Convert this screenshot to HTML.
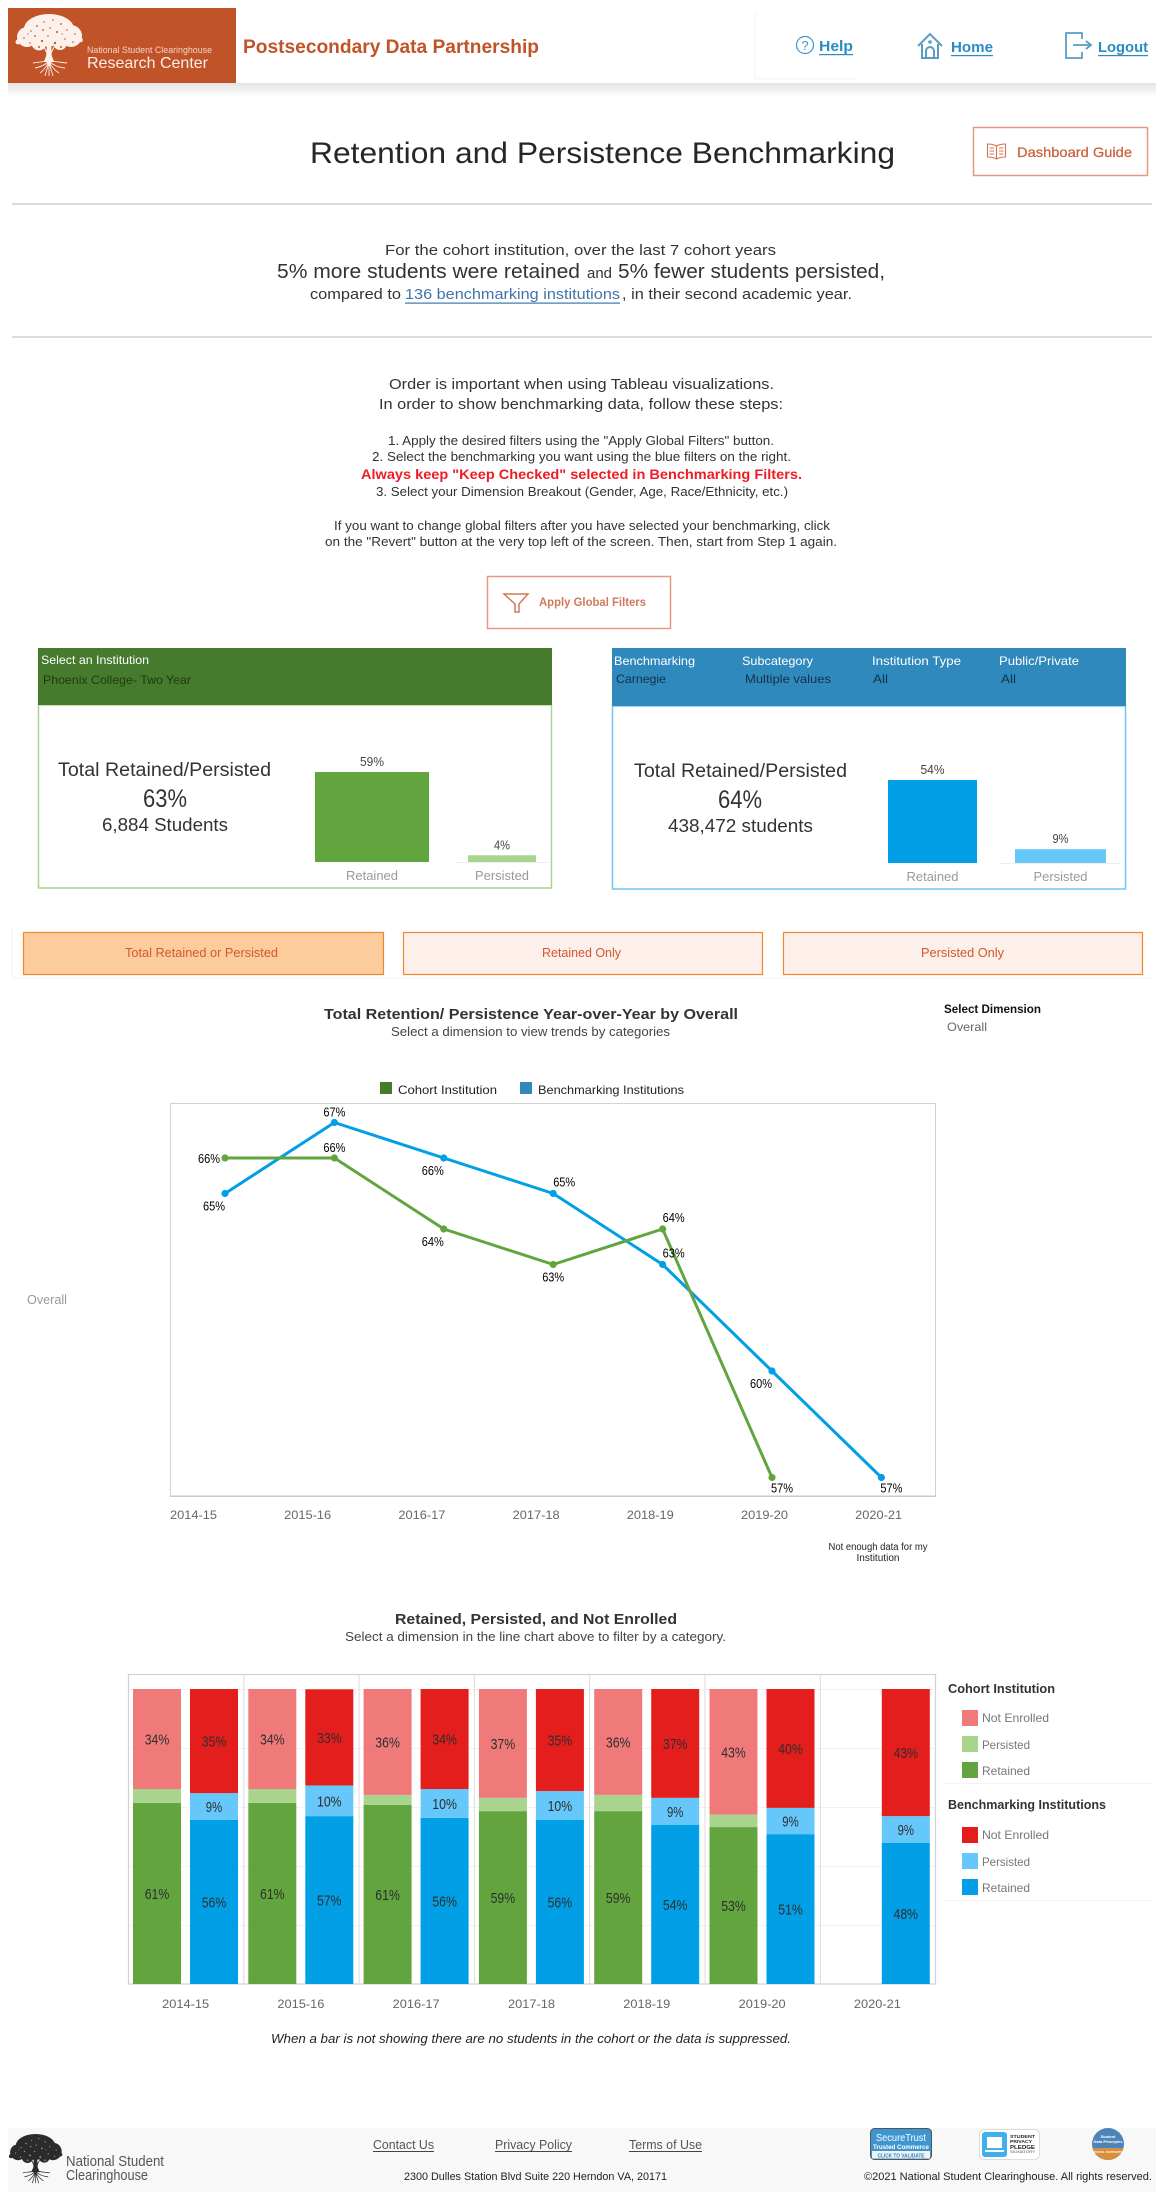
<!DOCTYPE html>
<html lang="en">
<head>
<meta charset="utf-8">
<title>Retention and Persistence Benchmarking</title>
<style>
html,body{margin:0;padding:0;background:#fff;width:1164px;height:2200px;overflow:hidden}
svg{display:block}
text{font-family:"Liberation Sans","DejaVu Sans",sans-serif;fill:#333}
.c{text-anchor:middle}
.b{font-weight:700}
</style>
</head>
<body>
<svg id="page" xmlns="http://www.w3.org/2000/svg" width="1164" height="2200" viewBox="0 0 1164 2200">
<defs>
  <linearGradient id="headShadow" x1="0" y1="0" x2="0" y2="1"><stop offset="0" stop-color="#e4e4e4"/><stop offset="1" stop-color="#ffffff"/></linearGradient>
  <symbol id="tree-mark" viewBox="0 0 68 63">
    <g fill="currentColor">
      <ellipse cx="34" cy="15" rx="25" ry="15"/><circle cx="12" cy="23" r="10"/><circle cx="56" cy="22" r="11"/><circle cx="24" cy="29" r="7.500"/><circle cx="45" cy="29" r="7"/><circle cx="3" cy="28" r="2.500"/><circle cx="65.500" cy="26" r="2.300"/><circle cx="34" cy="25" r="8"/>
      <path d="M32 28h4l.8 14 2.500 6h-10.600l2.500-6z"/>
      <path d="M34 46C29 48 24 48 18 49M34 46C39 48 44 48 52 49M34 47C30 51 26 53 20 54M34 47C38 51 42 53 50 54M34 47C32 52 29 56 25 59M34 47C36 52 39 56 44 59M34 47V62M34 47C33 53 31 58 30 62M34 47C35 53 37 58 38 62" stroke="currentColor" stroke-width=".9" fill="none"/>
      <path d="M29 33C31 37 32 39 33 42M39 33C37 37 36 39 35 42" stroke="currentColor" stroke-width="1" fill="none"/>
    </g>
    <g style="fill:var(--hole)">
      <circle cx="16" cy="17" r=".8"/><circle cx="22" cy="12" r=".9"/><circle cx="29" cy="8" r=".7"/><circle cx="38" cy="6" r=".8"/><circle cx="46" cy="10" r=".9"/><circle cx="52" cy="16" r=".8"/><circle cx="60" cy="20" r=".8"/><circle cx="28" cy="16" r=".9"/><circle cx="35" cy="14" r=".8"/><circle cx="42" cy="18" r="1"/><circle cx="20" cy="22" r=".9"/><circle cx="9" cy="24" r=".8"/><circle cx="50" cy="25" r=".8"/><circle cx="58" cy="28" r=".8"/><circle cx="27" cy="27" r="1.100"/><circle cx="40" cy="29" r="1.200"/><circle cx="33" cy="22" r=".8"/><circle cx="15" cy="29" r=".8"/><circle cx="24" cy="33" r="1"/><circle cx="46" cy="33" r="1"/><circle cx="13" cy="20" r=".6"/><circle cx="47" cy="20" r=".6"/>
    </g>
  </symbol>
</defs>

<!-- HEADER -->
<rect x="8" y="83" width="1148" height="14" fill="url(#headShadow)"/>
<g>
  <rect x="8" y="8" width="228" height="75" fill="#c15328"/>
  <use href="#tree-mark" x="15" y="14" width="68" height="63" style="color:#fbf1ea;--hole:#c15328"/>
  <text x="87" y="53" font-size="9" textLength="125" lengthAdjust="spacingAndGlyphs" style="fill:#f3d3c4">National Student Clearinghouse</text>
  <text x="87" y="68" font-size="16" textLength="121" lengthAdjust="spacingAndGlyphs" style="fill:#fbeee8">Research Center</text>
</g>
<text class="b" x="243" y="53" font-size="19.5" textLength="296" lengthAdjust="spacingAndGlyphs" style="fill:#c15328">Postsecondary Data Partnership</text>
<path d="M755 12V79H856" fill="none" stroke="#f3f3f3" stroke-width="1"/>

<g>
  <circle cx="805" cy="45" r="8.5" fill="none" stroke="#3f95c8" stroke-width="1.2"/>
  <text class="c" x="805" y="50" font-size="13" style="fill:#3f95c8">?</text>
  <text class="b" x="819" y="51" font-size="15" textLength="34" lengthAdjust="spacingAndGlyphs" style="fill:#2a8bc4">Help</text>
  <rect x="819" y="54" width="34" height="1.2" fill="#2a8bc4"/>
</g>
<g>
  <path d="M918 46 930 34 942 46M922 44V58H938V44M926 58V51a4 4 0 0 1 8 0V58" fill="none" stroke="#5b9cc4" stroke-width="2"/>
  <circle cx="930" cy="42" r="1.8" fill="#5b9cc4"/>
  <text class="b" x="951" y="52" font-size="15" textLength="42" lengthAdjust="spacingAndGlyphs" style="fill:#2a8bc4">Home</text>
  <rect x="951" y="55" width="42" height="1.2" fill="#2a8bc4"/>
</g>
<g>
  <path d="M1082 39V33H1066V58H1082V52M1073 45H1090M1086 41 1091 45 1086 49" fill="none" stroke="#5b9cc4" stroke-width="1.8"/>
  <text class="b" x="1098" y="52" font-size="15" textLength="50" lengthAdjust="spacingAndGlyphs" style="fill:#2a8bc4">Logout</text>
  <rect x="1098" y="55" width="50" height="1.2" fill="#2a8bc4"/>
</g>

<!-- TITLE -->
<text x="310" y="163" font-size="30" textLength="585" lengthAdjust="spacingAndGlyphs" style="fill:#262626">Retention and Persistence Benchmarking</text>
<g>
  <rect x="973.5" y="127.5" width="174" height="48" fill="#fff" stroke="#e39a80" stroke-width="1.5"/>
  <path d="M996.500 146C993 144 990 144 987.500 144V157C990 157 993 157 996.500 159 1000 157 1003 157 1005.500 157V144C1003 144 1000 144 996.500 146V159M989.500 148H994M989.500 151H994M989.500 154H994M999 148H1003.500M999 151H1003.500M999 154H1003.500" fill="none" stroke="#d0764f" stroke-width="1.1"/>
  <text x="1017" y="157" font-size="14" textLength="115" lengthAdjust="spacingAndGlyphs" style="fill:#c8623a;stroke:#c8623a;stroke-width:.25">Dashboard Guide</text>
</g>
<rect x="12" y="203" width="1140" height="2" fill="#dcdcdc"/>

<!-- SUMMARY -->
<g>
  <text x="385" y="255" font-size="15" textLength="391" lengthAdjust="spacingAndGlyphs">For the cohort institution, over the last 7 cohort years</text>
  <text x="277" y="278" font-size="20" textLength="303" lengthAdjust="spacingAndGlyphs">5% more students were retained</text>
  <text x="587" y="278" font-size="15" textLength="25" lengthAdjust="spacingAndGlyphs">and</text>
  <text x="618" y="278" font-size="20" textLength="267" lengthAdjust="spacingAndGlyphs">5% fewer students persisted,</text>
  <text x="310" y="299" font-size="15" textLength="91" lengthAdjust="spacingAndGlyphs">compared to</text>
  <g>
    <text x="405" y="299" font-size="15" textLength="215" lengthAdjust="spacingAndGlyphs" style="fill:#3f74ab">136 benchmarking institutions</text>
    <rect x="405" y="302.500" width="215" height="1.200" fill="#3f74ab"/>
  </g>
  <text x="622" y="299" font-size="15" textLength="230" lengthAdjust="spacingAndGlyphs">, in their second academic year.</text>
</g>
<rect x="12" y="336" width="1140" height="2" fill="#dcdcdc"/>

<!-- INSTRUCTIONS -->
<g>
  <text x="389" y="389" font-size="15" textLength="385" lengthAdjust="spacingAndGlyphs">Order is important when using Tableau visualizations.</text>
  <text x="379" y="409" font-size="15" textLength="404" lengthAdjust="spacingAndGlyphs">In order to show benchmarking data, follow these steps:</text>
  <text x="388" y="445" font-size="13" textLength="386" lengthAdjust="spacingAndGlyphs">1. Apply the desired filters using the "Apply Global Filters" button.</text>
  <text x="372" y="461" font-size="13" textLength="419" lengthAdjust="spacingAndGlyphs">2. Select the benchmarking you want using the blue filters on the right.</text>
  <text class="b" x="361" y="479" font-size="14" textLength="441" lengthAdjust="spacingAndGlyphs" style="fill:#ee1c25">Always keep "Keep Checked" selected in Benchmarking Filters.</text>
  <text x="376" y="496" font-size="13" textLength="412" lengthAdjust="spacingAndGlyphs">3. Select your Dimension Breakout (Gender, Age, Race/Ethnicity, etc.)</text>
  <text x="334" y="530" font-size="13" textLength="496" lengthAdjust="spacingAndGlyphs">If you want to change global filters after you have selected your benchmarking, click</text>
  <text x="325" y="546" font-size="13" textLength="512" lengthAdjust="spacingAndGlyphs">on the "Revert" button at the very top left of the screen. Then, start from Step 1 again.</text>
</g>
<g>
  <rect x="487.500" y="576.500" width="183" height="52" fill="#fff" stroke="#e39a80" stroke-width="1.500"/>
  <path d="M504 594H528L519 604V612H515V604Z" fill="none" stroke="#cf7a5a" stroke-width="1.500"/>
  <text class="b" x="539" y="606" font-size="12" textLength="107" lengthAdjust="spacingAndGlyphs" style="fill:#cf7a5a">Apply Global Filters</text>
</g>

<!-- COHORT PANEL -->
<g>
  <rect x="38.500" y="705" width="513" height="183" fill="#fff" stroke="#a8d48e" stroke-width="1.500"/>
  <rect x="38" y="648" width="514" height="57" fill="#467a2c"/>
  <text x="41" y="664" font-size="12" textLength="108" lengthAdjust="spacingAndGlyphs" style="fill:#fff">Select an Institution</text>
  <text x="43" y="684" font-size="12" textLength="148" lengthAdjust="spacingAndGlyphs" style="fill:#1e3a12">Phoenix College- Two Year</text>
  <text x="58" y="776" font-size="19" textLength="213" lengthAdjust="spacingAndGlyphs">Total Retained/Persisted</text>
  <text x="143" y="807" font-size="25" textLength="44" lengthAdjust="spacingAndGlyphs">63%</text>
  <text x="102" y="831" font-size="18" textLength="126" lengthAdjust="spacingAndGlyphs">6,884 Students</text>
  <rect x="456" y="862" width="92" height="1" fill="#eeeeee"/>
  <g id="cohort-summary-bars"></g>
</g>

<!-- BENCHMARK PANEL -->
<g>
  <rect x="612.500" y="706" width="513" height="183" fill="#fff" stroke="#6ec6f5" stroke-width="1.500"/>
  <rect x="612" y="648" width="514" height="58" fill="#2f89bd"/>
  <text x="614" y="665" font-size="12" textLength="81" lengthAdjust="spacingAndGlyphs" style="fill:#fff">Benchmarking</text>
  <text x="742" y="665" font-size="12" textLength="71" lengthAdjust="spacingAndGlyphs" style="fill:#fff">Subcategory</text>
  <text x="872" y="665" font-size="12" textLength="89" lengthAdjust="spacingAndGlyphs" style="fill:#fff">Institution Type</text>
  <text x="999" y="665" font-size="12" textLength="80" lengthAdjust="spacingAndGlyphs" style="fill:#fff">Public/Private</text>
  <text x="616" y="683" font-size="12" textLength="50" lengthAdjust="spacingAndGlyphs" style="fill:#123247">Carnegie</text>
  <text x="745" y="683" font-size="12" textLength="86" lengthAdjust="spacingAndGlyphs" style="fill:#123247">Multiple values</text>
  <text x="873" y="683" font-size="12" textLength="15" lengthAdjust="spacingAndGlyphs" style="fill:#123247">All</text>
  <text x="1001" y="683" font-size="12" textLength="15" lengthAdjust="spacingAndGlyphs" style="fill:#123247">All</text>
  <text x="634" y="777" font-size="19" textLength="213" lengthAdjust="spacingAndGlyphs">Total Retained/Persisted</text>
  <text x="718" y="808" font-size="25" textLength="44" lengthAdjust="spacingAndGlyphs">64%</text>
  <text x="668" y="832" font-size="18" textLength="145" lengthAdjust="spacingAndGlyphs">438,472 students</text>
  <rect x="1000" y="863" width="121" height="1" fill="#eeeeee"/>
  <g id="benchmark-summary-bars"></g>
</g>

<!-- TABS -->
<path d="M12 928V978H1153" fill="none" stroke="#f2f2f2" stroke-width="1"/>
<g>
  <rect x="23.500" y="932.500" width="360" height="42" fill="#fdcc9c" stroke="#f0872a" stroke-width="1.200"/>
  <text x="125" y="957" font-size="13" textLength="153" lengthAdjust="spacingAndGlyphs" style="fill:#d2582e">Total Retained or Persisted</text>
</g>
<g>
  <rect x="403.500" y="932.500" width="359" height="42" fill="#fdefea" stroke="#f0872a" stroke-width="1.200"/>
  <text x="542" y="957" font-size="13" textLength="79" lengthAdjust="spacingAndGlyphs" style="fill:#d2582e">Retained Only</text>
</g>
<g>
  <rect x="783.500" y="932.500" width="359" height="42" fill="#fdefea" stroke="#f0872a" stroke-width="1.200"/>
  <text x="921" y="957" font-size="13" textLength="83" lengthAdjust="spacingAndGlyphs" style="fill:#d2582e">Persisted Only</text>
</g>

<!-- LINE CHART HEADINGS -->
<text class="b" x="324" y="1019" font-size="15" textLength="414" lengthAdjust="spacingAndGlyphs">Total Retention/ Persistence Year-over-Year by Overall</text>
<text x="391" y="1036" font-size="13" textLength="279" lengthAdjust="spacingAndGlyphs" style="fill:#444">Select a dimension to view trends by categories</text>
<text class="b" x="944" y="1013" font-size="12" textLength="97" lengthAdjust="spacingAndGlyphs" style="fill:#111">Select Dimension</text>
<text x="947" y="1031" font-size="12" textLength="40" lengthAdjust="spacingAndGlyphs" style="fill:#666">Overall</text>
<g>
  <rect x="380" y="1082" width="12" height="12" fill="#467a2c"/>
  <text x="398" y="1094" font-size="12" textLength="99" lengthAdjust="spacingAndGlyphs" style="fill:#222">Cohort Institution</text>
  <rect x="520" y="1082" width="12" height="12" fill="#2f89bd"/>
  <text x="538" y="1094" font-size="12" textLength="146" lengthAdjust="spacingAndGlyphs" style="fill:#222">Benchmarking Institutions</text>
</g>
<text x="27" y="1304" font-size="13" textLength="40" lengthAdjust="spacingAndGlyphs" style="fill:#999">Overall</text>
<g id="line-chart"></g>
<text class="c" x="878" y="1550" font-size="10" textLength="99" lengthAdjust="spacingAndGlyphs" style="fill:#222">Not enough data for my</text>
<text class="c" x="878" y="1561" font-size="10" textLength="43" lengthAdjust="spacingAndGlyphs" style="fill:#222">Institution</text>

<!-- STACKED CHART HEADINGS -->
<text class="b" x="395" y="1624" font-size="15" textLength="282" lengthAdjust="spacingAndGlyphs">Retained, Persisted, and Not Enrolled</text>
<text x="345" y="1641" font-size="13" textLength="381" lengthAdjust="spacingAndGlyphs" style="fill:#444">Select a dimension in the line chart above to filter by a category.</text>
<g id="stacked-chart"></g>

<!-- STACKED LEGEND -->
<g>
  <text class="b" x="948" y="1693" font-size="13" textLength="107" lengthAdjust="spacingAndGlyphs">Cohort Institution</text>
  <rect x="962" y="1710" width="16" height="16" fill="#f07a7a"/>
  <text x="982" y="1722" font-size="12" textLength="67" lengthAdjust="spacingAndGlyphs" style="fill:#777">Not Enrolled</text>
  <rect x="962" y="1736" width="16" height="16" fill="#a8d48e"/>
  <text x="982" y="1749" font-size="12" textLength="48" lengthAdjust="spacingAndGlyphs" style="fill:#777">Persisted</text>
  <rect x="962" y="1762" width="16" height="16" fill="#62a53e"/>
  <text x="982" y="1775" font-size="12" textLength="48" lengthAdjust="spacingAndGlyphs" style="fill:#777">Retained</text>
  <rect x="944" y="1783" width="209" height="1" fill="#f2f2f2"/>
  <text class="b" x="948" y="1809" font-size="13" textLength="158" lengthAdjust="spacingAndGlyphs">Benchmarking Institutions</text>
  <rect x="962" y="1827" width="16" height="16" fill="#e41e1c"/>
  <text x="982" y="1839" font-size="12" textLength="67" lengthAdjust="spacingAndGlyphs" style="fill:#777">Not Enrolled</text>
  <rect x="962" y="1853" width="16" height="16" fill="#66c7fa"/>
  <text x="982" y="1866" font-size="12" textLength="48" lengthAdjust="spacingAndGlyphs" style="fill:#777">Persisted</text>
  <rect x="962" y="1879" width="16" height="16" fill="#009fe6"/>
  <text x="982" y="1892" font-size="12" textLength="48" lengthAdjust="spacingAndGlyphs" style="fill:#777">Retained</text>
  <rect x="944" y="1900" width="209" height="1" fill="#f2f2f2"/>
</g>
<text x="271" y="2043" font-size="13" font-style="italic" textLength="520" lengthAdjust="spacingAndGlyphs" style="fill:#222">When a bar is not showing there are no students in the cohort or the data is suppressed.</text>

<!-- FOOTER -->
<rect x="8" y="2128" width="1148" height="64" fill="#f8f8f8"/>
<use href="#tree-mark" x="8" y="2134" width="55" height="50" style="color:#2b2b2b;--hole:#9a9a9a"/>
<text x="66" y="2166" font-size="15" textLength="98" lengthAdjust="spacingAndGlyphs" style="fill:#555">National Student</text>
<text x="66" y="2180" font-size="15" textLength="82" lengthAdjust="spacingAndGlyphs" style="fill:#555">Clearinghouse</text>
<g>
  <text x="373" y="2149" font-size="13" textLength="61" lengthAdjust="spacingAndGlyphs" style="fill:#555">Contact Us</text>
  <rect x="373" y="2151" width="61" height="1" fill="#444"/>
</g>
<g>
  <text x="495" y="2149" font-size="13" textLength="77" lengthAdjust="spacingAndGlyphs" style="fill:#555">Privacy Policy</text>
  <rect x="495" y="2151" width="77" height="1" fill="#444"/>
</g>
<g>
  <text x="629" y="2149" font-size="13" textLength="73" lengthAdjust="spacingAndGlyphs" style="fill:#555">Terms of Use</text>
  <rect x="629" y="2151" width="73" height="1" fill="#444"/>
</g>
<text x="404" y="2180" font-size="11" textLength="263" lengthAdjust="spacingAndGlyphs" style="fill:#222">2300 Dulles Station Blvd Suite 220 Herndon VA, 20171</text>
<text x="864" y="2180" font-size="11" textLength="288" lengthAdjust="spacingAndGlyphs" style="fill:#222">©2021 National Student Clearinghouse. All rights reserved.</text>

<g>
  <rect x="870.500" y="2128.500" width="61" height="31" rx="4" fill="#3f95cf" stroke="#555" stroke-width="1"/>
  <rect x="872" y="2151" width="58" height="7.500" fill="#eef4f8"/>
  <text class="c" x="901" y="2141" font-size="10.500" textLength="50" lengthAdjust="spacingAndGlyphs" style="fill:#fff">SecureTrust</text>
  <text class="c" x="901" y="2149" font-size="6.500" font-weight="700" textLength="56" lengthAdjust="spacingAndGlyphs" style="fill:#fff">Trusted Commerce</text>
  <text class="c" x="901" y="2157.500" font-size="5.500" font-weight="700" textLength="47" lengthAdjust="spacingAndGlyphs" style="fill:#2f7fb5">CLICK TO VALIDATE</text>
</g>
<g>
  <rect x="979.500" y="2129.500" width="60" height="30" rx="5" fill="#fff" stroke="#dddddd" stroke-width="1"/>
  <rect x="982" y="2132" width="25" height="25" rx="3" fill="#3fb0ec"/>
  <rect x="987" y="2137" width="15" height="11" fill="#fff"/>
  <rect x="985" y="2150" width="19" height="2" fill="#fff"/>
  <text x="1010" y="2138" font-size="4.500" font-weight="700" textLength="25" lengthAdjust="spacingAndGlyphs" style="fill:#222">STUDENT</text>
  <text x="1010" y="2143" font-size="4.500" font-weight="700" textLength="22" lengthAdjust="spacingAndGlyphs" style="fill:#222">PRIVACY</text>
  <text x="1010" y="2149" font-size="5.500" font-weight="700" textLength="25" lengthAdjust="spacingAndGlyphs" style="fill:#222">PLEDGE</text>
  <text x="1010" y="2153" font-size="4" textLength="25" lengthAdjust="spacingAndGlyphs" style="fill:#555">SIGNATORY</text>
</g>
<g>
  <circle cx="1108" cy="2144" r="16" fill="#4d84b8"/>
  <path d="M1092.500 2148H1123.500A16 16 0 0 1 1092.500 2148Z" fill="#d98f3e"/>
  <text class="c" x="1108" y="2138" font-size="4" font-weight="700" style="fill:#fff">Student</text>
  <text class="c" x="1108" y="2143" font-size="4" font-weight="700" style="fill:#fff">Data Principles</text>
  <text class="c" x="1108" y="2153" font-size="3" font-weight="700" style="fill:#fff">OFFICIAL SUPPORTER</text>
</g>
</svg>

<script>
const summaryCategories = ['Retained', 'Persisted'];
const cohortSummaryValues = [59, 4.4];
const benchmarkSummaryValues = [54, 9];

const lineYears = ['2014-15', '2015-16', '2016-17', '2017-18', '2018-19', '2019-20', '2020-21'];
const lineCohortValues = [66, 66, 64, 63, 64, 57];
const lineBenchmarkValues = [65, 67, 66, 65, 63, 60, 57];
const lineCohortPlacement = ['left', 'above', 'below-left', 'below', 'above-right', 'below-right'];
const lineBenchmarkPlacement = ['below-left', 'above', 'below-left', 'above-right', 'above-right', 'below-left', 'below-right'];

const stackYears = ['2014-15', '2015-16', '2016-17', '2017-18', '2018-19', '2019-20', '2020-21'];
const stackCohortRetained = [61.4, 61.4, 60.7, 58.6, 58.6, 53.2, null];
const stackCohortPersisted = [4.7, 4.7, 3.4, 4.5, 5.5, 4.2, null];
const stackCohortNotEnrolled = [33.9, 33.9, 35.9, 36.9, 35.9, 42.6, null];
const stackBenchmarkRetained = [55.6, 56.9, 56.3, 55.6, 53.9, 50.8, 47.8];
const stackBenchmarkPersisted = [9.1, 10.4, 9.8, 9.8, 9.2, 8.9, 9.1];
const stackBenchmarkNotEnrolled = [35.3, 32.6, 33.9, 34.6, 36.9, 40.3, 43.1];
const stackGridTicks = [20, 40, 60, 80, 100];

const SVG_NS = 'http://www.w3.org/2000/svg';
function make(parent, tag, attrs, content) {
  const el = document.createElementNS(SVG_NS, tag);
  for (const k in attrs) el.setAttribute(k, attrs[k]);
  if (content !== undefined) el.textContent = content;
  parent.appendChild(el);
  return el;
}
function pct(v) { return Math.round(v) + '%'; }

/* ---------- summary mini bars ---------- */
function cohortSummaryY(v) { return 862 - v * 1.525; }
function benchmarkSummaryY(v) { return 863 - v * 1.537; }
function drawSummary(groupId, values, yFn, baseline, lefts, widths, colors, labelY, prefix) {
  const g = document.getElementById(groupId);
  values.forEach(function (v, i) {
    const top = yFn(v);
    const cx = lefts[i] + widths[i] / 2;
    const bar = make(g, 'rect', { x: lefts[i], y: top, width: widths[i], height: baseline - top, fill: colors[i] });
    
    
    const val = make(g, 'text', { x: cx, y: top - 6, 'font-size': 13, 'class': 'c', textLength: pct(v).length * 8, lengthAdjust: 'spacingAndGlyphs', style: 'fill:#444' }, pct(v));
    
    
    const cat = make(g, 'text', { x: cx, y: labelY, 'font-size': 13, 'class': 'c', textLength: summaryCategories[i] === 'Retained' ? 52 : 54, lengthAdjust: 'spacingAndGlyphs', style: 'fill:#999' }, summaryCategories[i]);
    
    
  });
}
drawSummary('cohort-summary-bars', cohortSummaryValues, cohortSummaryY, 862, [315, 468], [114, 68], ['#62a53e', '#a8d48e'], 880, 'cohort-summary');
drawSummary('benchmark-summary-bars', benchmarkSummaryValues, benchmarkSummaryY, 863, [888, 1015], [89, 91], ['#009fe6', '#66c7fa'], 881, 'benchmark-summary');

/* ---------- line chart ---------- */
function lineX(i) { return 225 + 109.4 * i; }
function lineY(v) { return 1158 + (66 - v) * 35.5; }
function lineTickX(i) { return 193.5 + 114.2 * i; }
const placementDx = { 'left': -16, 'above': 0, 'below': 0, 'below-left': -11, 'above-right': 11, 'below-right': 10 };
const placementDy = { 'left': 5, 'above': -6, 'below': 17, 'below-left': 17, 'above-right': -7, 'below-right': 15 };

const lineChart = document.getElementById('line-chart');
const linePlot = make(lineChart, 'rect', { x: 170.5, y: 1103.5, width: 765, height: 392.5, fill: '#fff', stroke: '#d2d2d2', 'stroke-width': 1 });


const lineBase = make(lineChart, 'rect', { x: 170, y: 1495.5, width: 766, height: 1.5, fill: '#c9c9c9' });



function drawLine(values, placement, color, series) {
  const d = values.map(function (v, i) { return (i ? 'L' : 'M') + lineX(i) + ' ' + lineY(v); }).join(' ');
  const path = make(lineChart, 'path', { d: d, fill: 'none', stroke: color, 'stroke-width': 3, 'stroke-linejoin': 'round' });
  
  
  values.forEach(function (v, i) {
    const dot = make(lineChart, 'circle', { cx: lineX(i), cy: lineY(v), r: 3.6, fill: color });
    
    
  });
}
function drawLineLabels(values, placement, series) {
  values.forEach(function (v, i) {
    const p = placement[i];
    const label = make(lineChart, 'text', { x: lineX(i) + placementDx[p], y: lineY(v) + placementDy[p], 'font-size': 13, 'class': 'c', textLength: 22, lengthAdjust: 'spacingAndGlyphs', style: 'fill:#000' }, pct(v));
    
    
  });
}
drawLine(lineBenchmarkValues, lineBenchmarkPlacement, '#009fe6', 'benchmarking');
drawLine(lineCohortValues, lineCohortPlacement, '#62a53e', 'cohort');
drawLineLabels(lineBenchmarkValues, lineBenchmarkPlacement, 'benchmarking');
drawLineLabels(lineCohortValues, lineCohortPlacement, 'cohort');
lineYears.forEach(function (year, i) {
  const tick = make(lineChart, 'text', { x: lineTickX(i), y: 1519, 'font-size': 12, 'class': 'c', textLength: 47, lengthAdjust: 'spacingAndGlyphs', style: 'fill:#666' }, year);
  
  
});

/* ---------- stacked bars ---------- */
function stackColumnX(i) { return 128 + 115.3 * i; }
function stackY(p) { return 1984 - p * 2.95; }

const stackChart = document.getElementById('stacked-chart');
const stackPlot = make(stackChart, 'rect', { x: 128.5, y: 1674.5, width: 807, height: 309.5, fill: '#fff', stroke: '#d2d2d2', 'stroke-width': 1.2 });


stackGridTicks.forEach(function (t) {
  const grid = make(stackChart, 'rect', { x: 129, y: stackY(t), width: 806, height: 1, fill: '#f1f1f1' });
  
  
});
stackYears.forEach(function (year, i) {
  if (i > 0) {
    const sep = make(stackChart, 'rect', { x: stackColumnX(i), y: 1674, width: 1, height: 310, fill: '#dcdcdc' });
    
    
  }
  const tick = make(stackChart, 'text', { x: stackColumnX(i) + 57.6, y: 2008, 'font-size': 12, 'class': 'c', textLength: 47, lengthAdjust: 'spacingAndGlyphs', style: 'fill:#666' }, year);
  
  
});

function drawStack(retained, persisted, notEnrolled, offset, colors, series, labelPersisted) {
  stackYears.forEach(function (year, i) {
    if (retained[i] === null) return;
    const x = stackColumnX(i) + offset;
    const parts = [
      { key: 'retained', v: retained[i], color: colors[0], label: true },
      { key: 'persisted', v: persisted[i], color: colors[1], label: labelPersisted },
      { key: 'not-enrolled', v: notEnrolled[i], color: colors[2], label: true }
    ];
    let acc = 0;
    parts.forEach(function (part) {
      const y0 = stackY(acc);
      const y1 = stackY(acc + part.v);
      const seg = make(stackChart, 'rect', { x: x, y: y1, width: 48, height: y0 - y1, fill: part.color });
      
      
      if (part.label) {
        const txt = pct(part.v);
        const lab = make(stackChart, 'text', { x: x + 24, y: (y0 + y1) / 2 + 5.5, 'font-size': 15, 'class': 'c', textLength: txt.length * 8.2, lengthAdjust: 'spacingAndGlyphs', style: 'fill:#2e2e2e' }, txt);
        
        
      }
      acc += part.v;
    });
  });
}
drawStack(stackCohortRetained, stackCohortPersisted, stackCohortNotEnrolled, 5, ['#62a53e', '#a8d48e', '#f07a7a'], 'cohort', false);
drawStack(stackBenchmarkRetained, stackBenchmarkPersisted, stackBenchmarkNotEnrolled, 62, ['#009fe6', '#66c7fa', '#e41e1c'], 'benchmarking', true);
</script>
</body>
</html>
